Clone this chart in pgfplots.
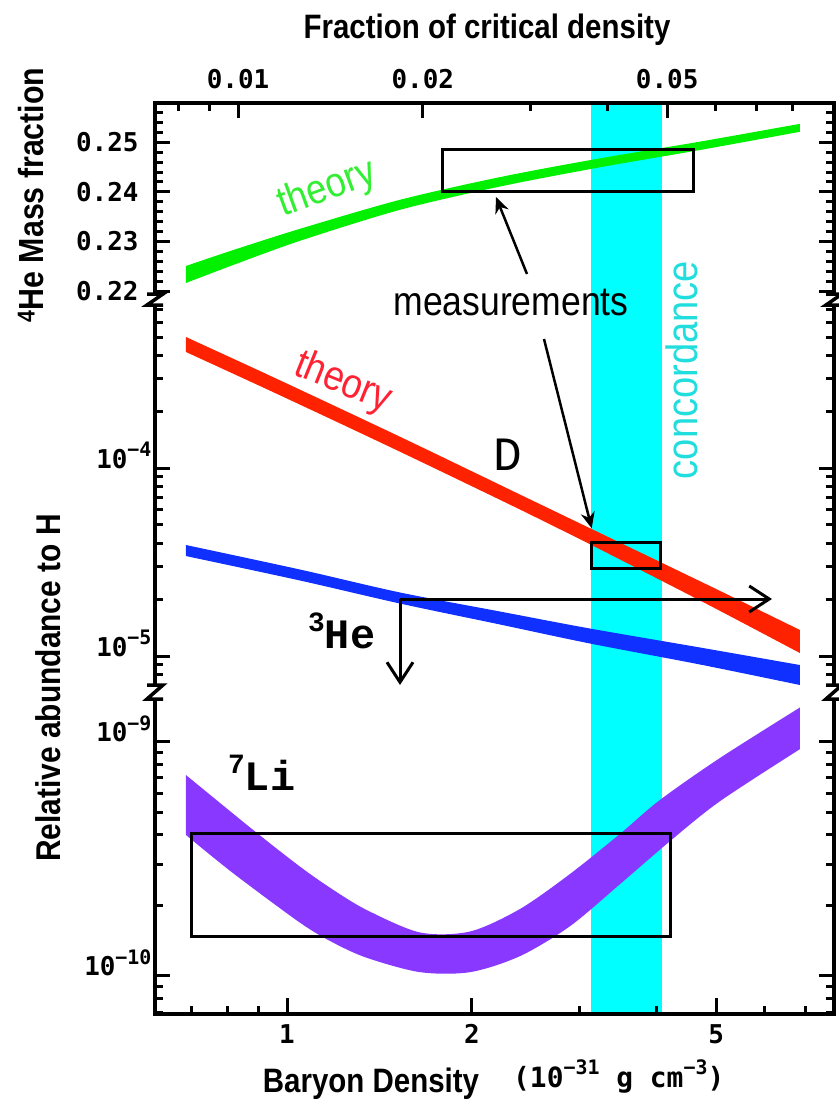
\documentclass[border=0pt]{standalone}
\usepackage{fontspec}
\setmainfont{Liberation Sans}
\newfontfamily\tickfont{DejaVu Sans Mono}
\newfontfamily\labfont{Liberation Mono}
\usepackage{pgfplots}
\pgfplotsset{compat=1.18}
\usetikzlibrary{arrows.meta}
\definecolor{heG}{RGB}{0,240,0}
\definecolor{dR}{RGB}{255,34,0}
\definecolor{hB}{RGB}{16,48,255}
\definecolor{liP}{RGB}{136,56,255}
\definecolor{conc}{RGB}{0,255,255}
\definecolor{concT}{RGB}{34,221,221}
\definecolor{thG}{RGB}{51,238,51}
\definecolor{thR}{RGB}{255,34,51}
\newcommand\fs[1]{\fontsize{#1}{#1}\selectfont}
\newcommand\tsup[1]{\raisebox{0.45em}{\fs{20}#1}}
\begin{document}
\begin{tikzpicture}
\useasboundingbox (0,0) rectangle (839bp,-1101bp);

% frame axis with bottom ticks and concordance band
\begin{axis}[scale only axis, width=679bp, height=911bp, xmode=log, xmin=0.6095, xmax=7.779,
  at={(155bp,-1014bp)}, anchor=south west,
  tick align=inside, major tick length=16bp, minor tick length=8bp,
  tick style={black,line width=3bp}, axis line style={line width=3.5bp},
  ymin=0, ymax=1, ytick=\empty, xtick={1,2,5}, xticklabels={1,2,5},
  minor xtick={0.7,0.8,0.9,3,4,6,7}, xtick pos=left,
  axis on top, xticklabel style={font=\tickfont\bfseries\fs{26}, yshift=-7bp}]
\addplot[fill=conc, draw=none] coordinates {(3.127,0) (3.127,1) (4.077,1) (4.077,0) (3.127,0)};
\end{axis}

% top axis: fraction of critical density
\begin{axis}[scale only axis, width=679bp, height=911bp, xmode=log,
  at={(155bp,-1014bp)}, anchor=south west,
  tick align=inside, major tick length=15bp, minor tick length=8bp,
  tick style={black,line width=3bp}, axis line style={line width=3.5bp},
  xmin=0.007324, xmax=0.09348, ymin=0, ymax=1,
  axis x line*=top, axis y line=none,
  xtick={0.01,0.02,0.05}, xticklabels={0.01,0.02,0.05},
  minor xtick={0.008,0.009,0.03,0.04,0.06,0.07,0.08},
  xticklabel style={font=\tickfont\bfseries\fs{26}, anchor=south, yshift=11bp}]
\addplot[draw=none] coordinates {(0.01,0.5)};
\end{axis}

% He4 panel
\begin{axis}[scale only axis, width=679bp, height=190bp, xmode=log, xmin=0.6095, xmax=7.779,
  at={(155bp,-293bp)}, anchor=south west, axis x line=none, axis y line=box, yticklabel pos=left,
  tick align=inside, major tick length=15bp, minor tick length=8bp,
  tick style={black,line width=3bp}, axis line style={line width=3.5bp},
  ymin=0.2196, ymax=0.25793,
  ytick={0.22,0.23,0.24,0.25}, yticklabels={0.22,0.23,0.24,0.25},
  minor ytick={0.222,0.224,0.226,0.228,0.232,0.234,0.236,0.238,0.242,0.244,0.246,0.248,0.252,0.254,0.256},
  yticklabel style={font=\tickfont\bfseries\fs{26}, xshift=-13bp}]
\addplot[fill=heG, draw=none, smooth] coordinates {
 (0.6846,0.22505) (0.8166,0.22825) (1.0500,0.23255) (1.5276,0.23840) (2.2233,0.24298)
 (3.2353,0.24677) (4.7076,0.25014) (6.8469,0.25373)}
 -- plot[smooth] coordinates {
 (axis cs:6.8469,0.25212) (axis cs:4.7076,0.24845) (axis cs:3.2353,0.24496) (axis cs:2.2233,0.24108)
 (axis cs:1.5276,0.23638) (axis cs:1.0500,0.23013) (axis cs:0.8166,0.22523) (axis cs:0.6846,0.22162)} -- cycle;
\draw[line width=3bp] (axis cs:1.793,0.2486) rectangle (axis cs:4.588,0.2400);
\end{axis}

% D and He3 panel
\begin{axis}[scale only axis, width=679bp, height=378bp, xmode=log, xmin=0.6095, xmax=7.779,
  at={(155bp,-684bp)}, anchor=south west, axis x line=none, axis y line=box, yticklabel pos=left,
  tick align=inside, major tick length=15bp, minor tick length=8bp,
  tick style={black,line width=3bp}, axis line style={line width=3.5bp},
  ymode=log, ymin=7.094e-6, ymax=7.322e-4,
  ytick={1e-5,1e-4}, yticklabels={10\tsup{−5},10\tsup{−4}},
  minor ytick={8e-6,9e-6,2e-5,3e-5,4e-5,5e-5,6e-5,7e-5,8e-5,9e-5,2e-4,3e-4,4e-4,5e-4,6e-4,7e-4},
  yticklabel style={font=\tickfont\bfseries\fs{26}, anchor=base east}]
\addplot[fill=dR, draw=none, smooth] coordinates {
 (0.6846,5.006e-4) (0.9278,3.168e-4) (1.2664,1.968e-4) (1.6466,1.310e-4) (2.3958,7.250e-5)
 (3.1148,4.796e-5) (4.0500,3.172e-5) (5.0737,2.222e-5) (6.8469,1.376e-5)}
 -- plot[smooth] coordinates {
 (axis cs:6.8469,1.037e-5) (axis cs:5.0737,1.739e-5) (axis cs:4.0500,2.543e-5) (axis cs:3.1148,3.941e-5)
 (axis cs:2.3958,6.032e-5) (axis cs:1.6466,1.090e-4) (axis cs:1.2664,1.638e-4) (axis cs:0.9278,2.636e-4)
 (axis cs:0.6846,4.165e-4)} -- cycle;
\addplot[fill=hB, draw=none, smooth] coordinates {
 (0.6846,3.903e-5) (1.0500,2.889e-5) (1.5276,2.180e-5) (2.2233,1.726e-5) (3.1148,1.401e-5)
 (4.7076,1.110e-5) (6.8469,8.954e-6)}
 -- plot[smooth] coordinates {
 (axis cs:6.8469,7.008e-6) (axis cs:4.7076,9.01e-6) (axis cs:3.1148,1.166e-5) (axis cs:2.2233,1.472e-5)
 (axis cs:1.5276,1.904e-5) (axis cs:1.0500,2.525e-5) (axis cs:0.6846,3.409e-5)} -- cycle;
\draw[line width=3bp] (axis cs:3.135,4.03e-5) rectangle (axis cs:4.061,2.93e-5);
\end{axis}

% Li7 panel
\begin{axis}[scale only axis, width=679bp, height=314bp, xmode=log, xmin=0.6095, xmax=7.779,
  at={(155bp,-1014bp)}, anchor=south west, axis x line=none, axis y line=box, yticklabel pos=left,
  tick align=inside, major tick length=15bp, minor tick length=8bp,
  tick style={black,line width=3bp}, axis line style={line width=3.5bp},
  ymode=log, ymin=6.861e-11, ymax=1.507e-9,
  ytick={1e-10,1e-9}, yticklabels={10\tsup{−10},10\tsup{−9}},
  minor ytick={7e-11,8e-11,9e-11,2e-10,3e-10,4e-10,5e-10,6e-10,7e-10,8e-10,9e-10},
  yticklabel style={font=\tickfont\bfseries\fs{26}, anchor=base east}]
\addplot[fill=liP, draw=none, smooth] coordinates {
 (0.6846,7.205e-10) (0.8804,4.200e-10) (1.0500,2.925e-10) (1.1883,2.331e-10)
 (1.3499,1.906e-10) (1.6466,1.531e-10) (1.9869,1.546e-10) (2.3958,1.929e-10)
 (2.8904,2.723e-10) (3.4857,4.036e-10) (4.0500,5.640e-10) (5.0737,8.527e-10) (6.8469,1.401e-9)}
 -- plot[smooth] coordinates {
 (axis cs:6.8469,9.299e-10) (axis cs:5.0737,5.574e-10) (axis cs:4.2050,3.760e-10) (axis cs:3.4857,2.463e-10)
 (axis cs:2.8904,1.629e-10) (axis cs:2.3958,1.213e-10) (axis cs:1.9869,1.036e-10) (axis cs:1.6466,1.036e-10)
 (axis cs:1.3499,1.192e-10) (axis cs:1.1883,1.386e-10) (axis cs:1.0500,1.685e-10) (axis cs:0.8166,2.745e-10)
 (axis cs:0.6846,3.994e-10)} -- cycle;
\draw[line width=3bp] (axis cs:0.70,4.06e-10) rectangle (axis cs:4.217,1.47e-10);
\end{axis}

\begin{scope}[x=1bp,y=1bp]
% He3 upper limits
\draw[line width=3bp, -{Straight Barb[length=20bp,width=26bp,line width=3bp]}] (400,-599) -- (772,-599);
\draw[line width=3bp, -{Straight Barb[length=20bp,width=26bp,line width=3bp]}] (400,-599) -- (400,-685);

% axis breaks
\foreach \X in {155,834}{
  \foreach \a/\b in {293/306,684/700}{
    \fill[white] (\X-4,-\a) rectangle (\X+4,-\b);
    \draw[line width=3.5bp] (\X-8,-\a-1) -- (\X+8,-\a-1) -- (\X-8,-\b+1) -- (\X+8,-\b+1);
  }
}

% measurement arrows
\draw[line width=2.5bp, -{Stealth[length=16bp,width=14bp]}] (527,-274) -- (496,-197);
\draw[line width=2.5bp, -{Stealth[length=16bp,width=14bp]}] (544,-339) -- (591.7,-528.3);

% texts
\node[anchor=base] at (487,-38) {\bfseries\fs{34}\scalebox{0.87}[1]{Fraction of critical density}};
\node[rotate=90] at (31,-195) {\bfseries\fs{35}\scalebox{0.87}[1]{\textsuperscript{4}He Mass fraction}};
\node[rotate=90] at (48,-688) {\bfseries\fs{34.5}\scalebox{0.87}[1]{Relative abundance to H}};
\node[anchor=base] at (371,-1092) {\bfseries\fs{34}\scalebox{0.87}[1]{Baryon Density}};
\node[anchor=base west, inner sep=0] at (513,-1087) {\tickfont\bfseries\fs{28}(10\tsup{−31} g cm\tsup{−3})};
\node[anchor=base] at (511,-315) {\fs{41}\scalebox{0.87}[1]{measurements}};
\node[rotate=90, anchor=base, text=concT] at (697,-370) {\fs{44}\scalebox{0.87}[1]{concordance}};
\node[rotate=20, text=thG] at (327,-189) {\fs{42}\scalebox{0.87}[1]{theory}};
\node[rotate=-22, text=thR] at (343,-383) {\fs{42}\scalebox{0.87}[1]{theory}};
\node[anchor=base] at (508,-470) {\labfont\fs{48}D};
\node[anchor=base west, inner sep=0] at (308,-648) {\labfont\bfseries\fs{42}\raisebox{0.4em}{\fs{28}3}He};
\node[anchor=base west, inner sep=0] at (228,-790) {\labfont\bfseries\fs{42}\raisebox{0.4em}{\fs{28}7}Li};
\end{scope}
\end{tikzpicture}
\end{document}
